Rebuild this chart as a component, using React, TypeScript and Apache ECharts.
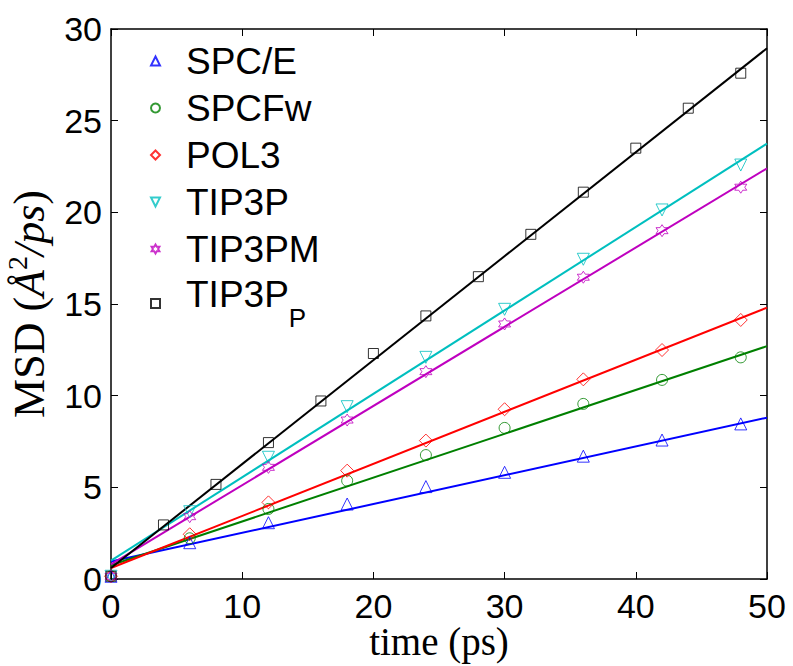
import React, { useEffect, useRef } from "react";
import * as echarts from "echarts";

const seriesNames = ["SPC/E", "SPCFw", "POL3", "TIP3P", "TIP3PM", "TIP3P_P"];
const colors = ["#0000ff", "#008000", "#ff0000", "#00bfbf", "#bf00bf", "#000000"];

const timeA = [0, 6, 12, 18, 24, 30, 36, 42, 48];
const timeP = [0, 4, 8, 12, 16, 20, 24, 28, 32, 36, 40, 44, 48];

const spce = [0.15, 1.98, 3.07, 4.09, 5.04, 5.82, 6.7, 7.58, 8.46];
const spcfw = [0.15, 2.22, 3.82, 5.36, 6.76, 8.24, 9.55, 10.86, 12.09];
const pol3 = [0.15, 2.44, 4.18, 5.91, 7.55, 9.26, 10.89, 12.49, 14.13];
const tip3p = [0.15, 3.67, 6.64, 9.4, 12.09, 14.71, 17.44, 20.13, 22.58];
const tip3pm = [0.15, 3.4, 6.09, 8.67, 11.31, 13.91, 16.46, 19.0, 21.37];
const tip3pP = [0.15, 2.95, 5.16, 7.44, 9.71, 12.3, 14.35, 16.49, 18.8, 21.1, 23.5, 25.68, 27.59];

const fitX = [0, 50];
const fitSpce = [0.95, 8.8];
const fitSpcfw = [0.75, 12.7];
const fitPol3 = [0.6, 14.8];
const fitTip3p = [1.0, 23.75];
const fitTip3pm = [0.8, 22.4];
const fitTip3pP = [0.6, 28.95];

const xTicks = [0, 10, 20, 30, 40, 50];
const yTicks = [0, 5, 10, 15, 20, 25, 30];

const hexagram =
  "path://M0,-10 L2.887,-5 L8.66,-5 L5.774,0 L8.66,5 L2.887,5 L0,10 L-2.887,5 L-8.66,5 L-5.774,0 L-8.66,-5 L-2.887,-5 Z";
const triUp = "path://M5,0 L10,10 L0,10 Z";
const triDown = "path://M0,0 L10,0 L5,10 Z";

export default function App() {
  const ref = useRef<HTMLDivElement>(null);
  useEffect(() => {
    if (!ref.current) return;
    const chart = echarts.init(ref.current, null, { renderer: "svg" });
    const xs = [timeA, timeA, timeA, timeA, timeA, timeP];
    const ys = [spce, spcfw, pol3, tip3p, tip3pm, tip3pP];
    const fits = [fitSpce, fitSpcfw, fitPol3, fitTip3p, fitTip3pm, fitTip3pP];
    const symbols = [triUp, "circle", "diamond", triDown, hexagram, "rect"];
    const sizes = [12, 11, 13, 12, 12, 10];

    const series: any[] = [];
    seriesNames.forEach((name, i) => {
      series.push({
        name: name + " fit",
        type: "line",
        data: fitX.map((x, j) => [x, fits[i][j]]),
        showSymbol: false,
        symbol: "none",
        lineStyle: { color: colors[i], width: 2 },
        itemStyle: { color: colors[i] },
        z: 2,
      });
    });
    seriesNames.forEach((name, i) => {
      series.push({
        name,
        type: "scatter",
        data: xs[i].map((x, j) => [x, ys[i][j]]),
        symbol: symbols[i],
        symbolSize: sizes[i],
        itemStyle: { color: "rgba(255,255,255,0)", borderColor: colors[i], borderWidth: 1 },
        z: 3,
      });
    });

    const tickLabelStyle = {
      fontFamily: "Liberation Sans",
      fontSize: 34,
      lineHeight: 30,
      color: "#000",
    };

    chart.setOption({
      animation: false,
      backgroundColor: "#fff",
      grid: { left: 111, right: 26, top: 29, bottom: 87, containLabel: false, outerBoundsMode: "none" },
      legend: {
        data: seriesNames.map((n, i) => ({ name: n, icon: symbols[i] })),
        orient: "vertical",
        left: 145,
        top: 36,
        itemWidth: 9,
        itemHeight: 9,
        itemGap: 7,
        selectedMode: false,
        formatter: (name: string) => (name === "TIP3P_P" ? "{a|TIP3P}{b|P}" : name),
        textStyle: {
          fontFamily: "Liberation Sans",
          fontSize: 37,
          lineHeight: 40,
          color: "#000",
          padding: [0, 0, 0, 21],
          rich: {
            a: { fontFamily: "Liberation Sans", fontSize: 37, lineHeight: 40, verticalAlign: "top", color: "#000" },
            b: { fontFamily: "Liberation Sans", fontSize: 26, lineHeight: 55, verticalAlign: "bottom", color: "#000" },
          },
        },
      },
      xAxis: [
        {
          type: "value",
          min: 0,
          max: 50,
          interval: 10,
          position: "bottom",
          axisLine: { show: true, onZero: false, lineStyle: { color: "#000", width: 1.5 } },
          axisTick: { show: true, inside: true, length: 7, lineStyle: { color: "#000", width: 1 } },
          splitLine: { show: false },
          axisLabel: {
            ...tickLabelStyle,
            margin: 12,
            formatter: (v: number) => (xTicks.includes(v) ? String(v) : ""),
          },
          name: "time (ps)",
          nameLocation: "middle",
          nameGap: 43,
          nameMoveOverlap: false,
          nameTextStyle: { fontFamily: "Liberation Serif", fontSize: 39, lineHeight: 38, color: "#000" },
        },
        {
          type: "value",
          min: 0,
          max: 50,
          interval: 10,
          position: "top",
          axisLine: { show: true, onZero: false, lineStyle: { color: "#000", width: 1.5 } },
          axisTick: { show: true, inside: true, length: 7, lineStyle: { color: "#000", width: 1 } },
          splitLine: { show: false },
          axisLabel: { show: false },
        },
      ],
      yAxis: [
        {
          type: "value",
          min: 0,
          max: 30,
          interval: 5,
          position: "left",
          axisLine: { show: true, onZero: false, lineStyle: { color: "#000", width: 1.5 } },
          axisTick: { show: true, inside: true, length: 7, lineStyle: { color: "#000", width: 1 } },
          splitLine: { show: false },
          axisLabel: {
            ...tickLabelStyle,
            margin: 9,
            formatter: (v: number) => (yTicks.includes(v) ? String(v) : ""),
          },
          name: "{n|MSD (}{it|Å}{sup|2}{it|/ps}{n|)}",
          nameLocation: "middle",
          nameRotate: 90,
          nameGap: 60,
          nameTextStyle: {
            fontFamily: "Liberation Serif",
            fontSize: 44,
            color: "#000",
            rich: {
              n: { fontFamily: "Liberation Serif", fontSize: 44, lineHeight: 48, verticalAlign: "bottom", color: "#000" },
              sup: { fontFamily: "Liberation Serif", fontSize: 28, lineHeight: 28, verticalAlign: "top", color: "#000" },
              it: { fontFamily: "Liberation Serif", fontSize: 44, lineHeight: 48, fontStyle: "italic", verticalAlign: "bottom", color: "#000" },
            },
          },
        },
        {
          type: "value",
          min: 0,
          max: 30,
          interval: 5,
          position: "right",
          axisLine: { show: true, onZero: false, lineStyle: { color: "#000", width: 1.5 } },
          axisTick: { show: true, inside: true, length: 7, lineStyle: { color: "#000", width: 1 } },
          splitLine: { show: false },
          axisLabel: { show: false },
        },
      ],
      series,
    });
    return () => chart.dispose();
  }, []);
  return <div ref={ref} style={{ width: 793, height: 666, position: "absolute", left: 0, top: 0 }} />;
}
